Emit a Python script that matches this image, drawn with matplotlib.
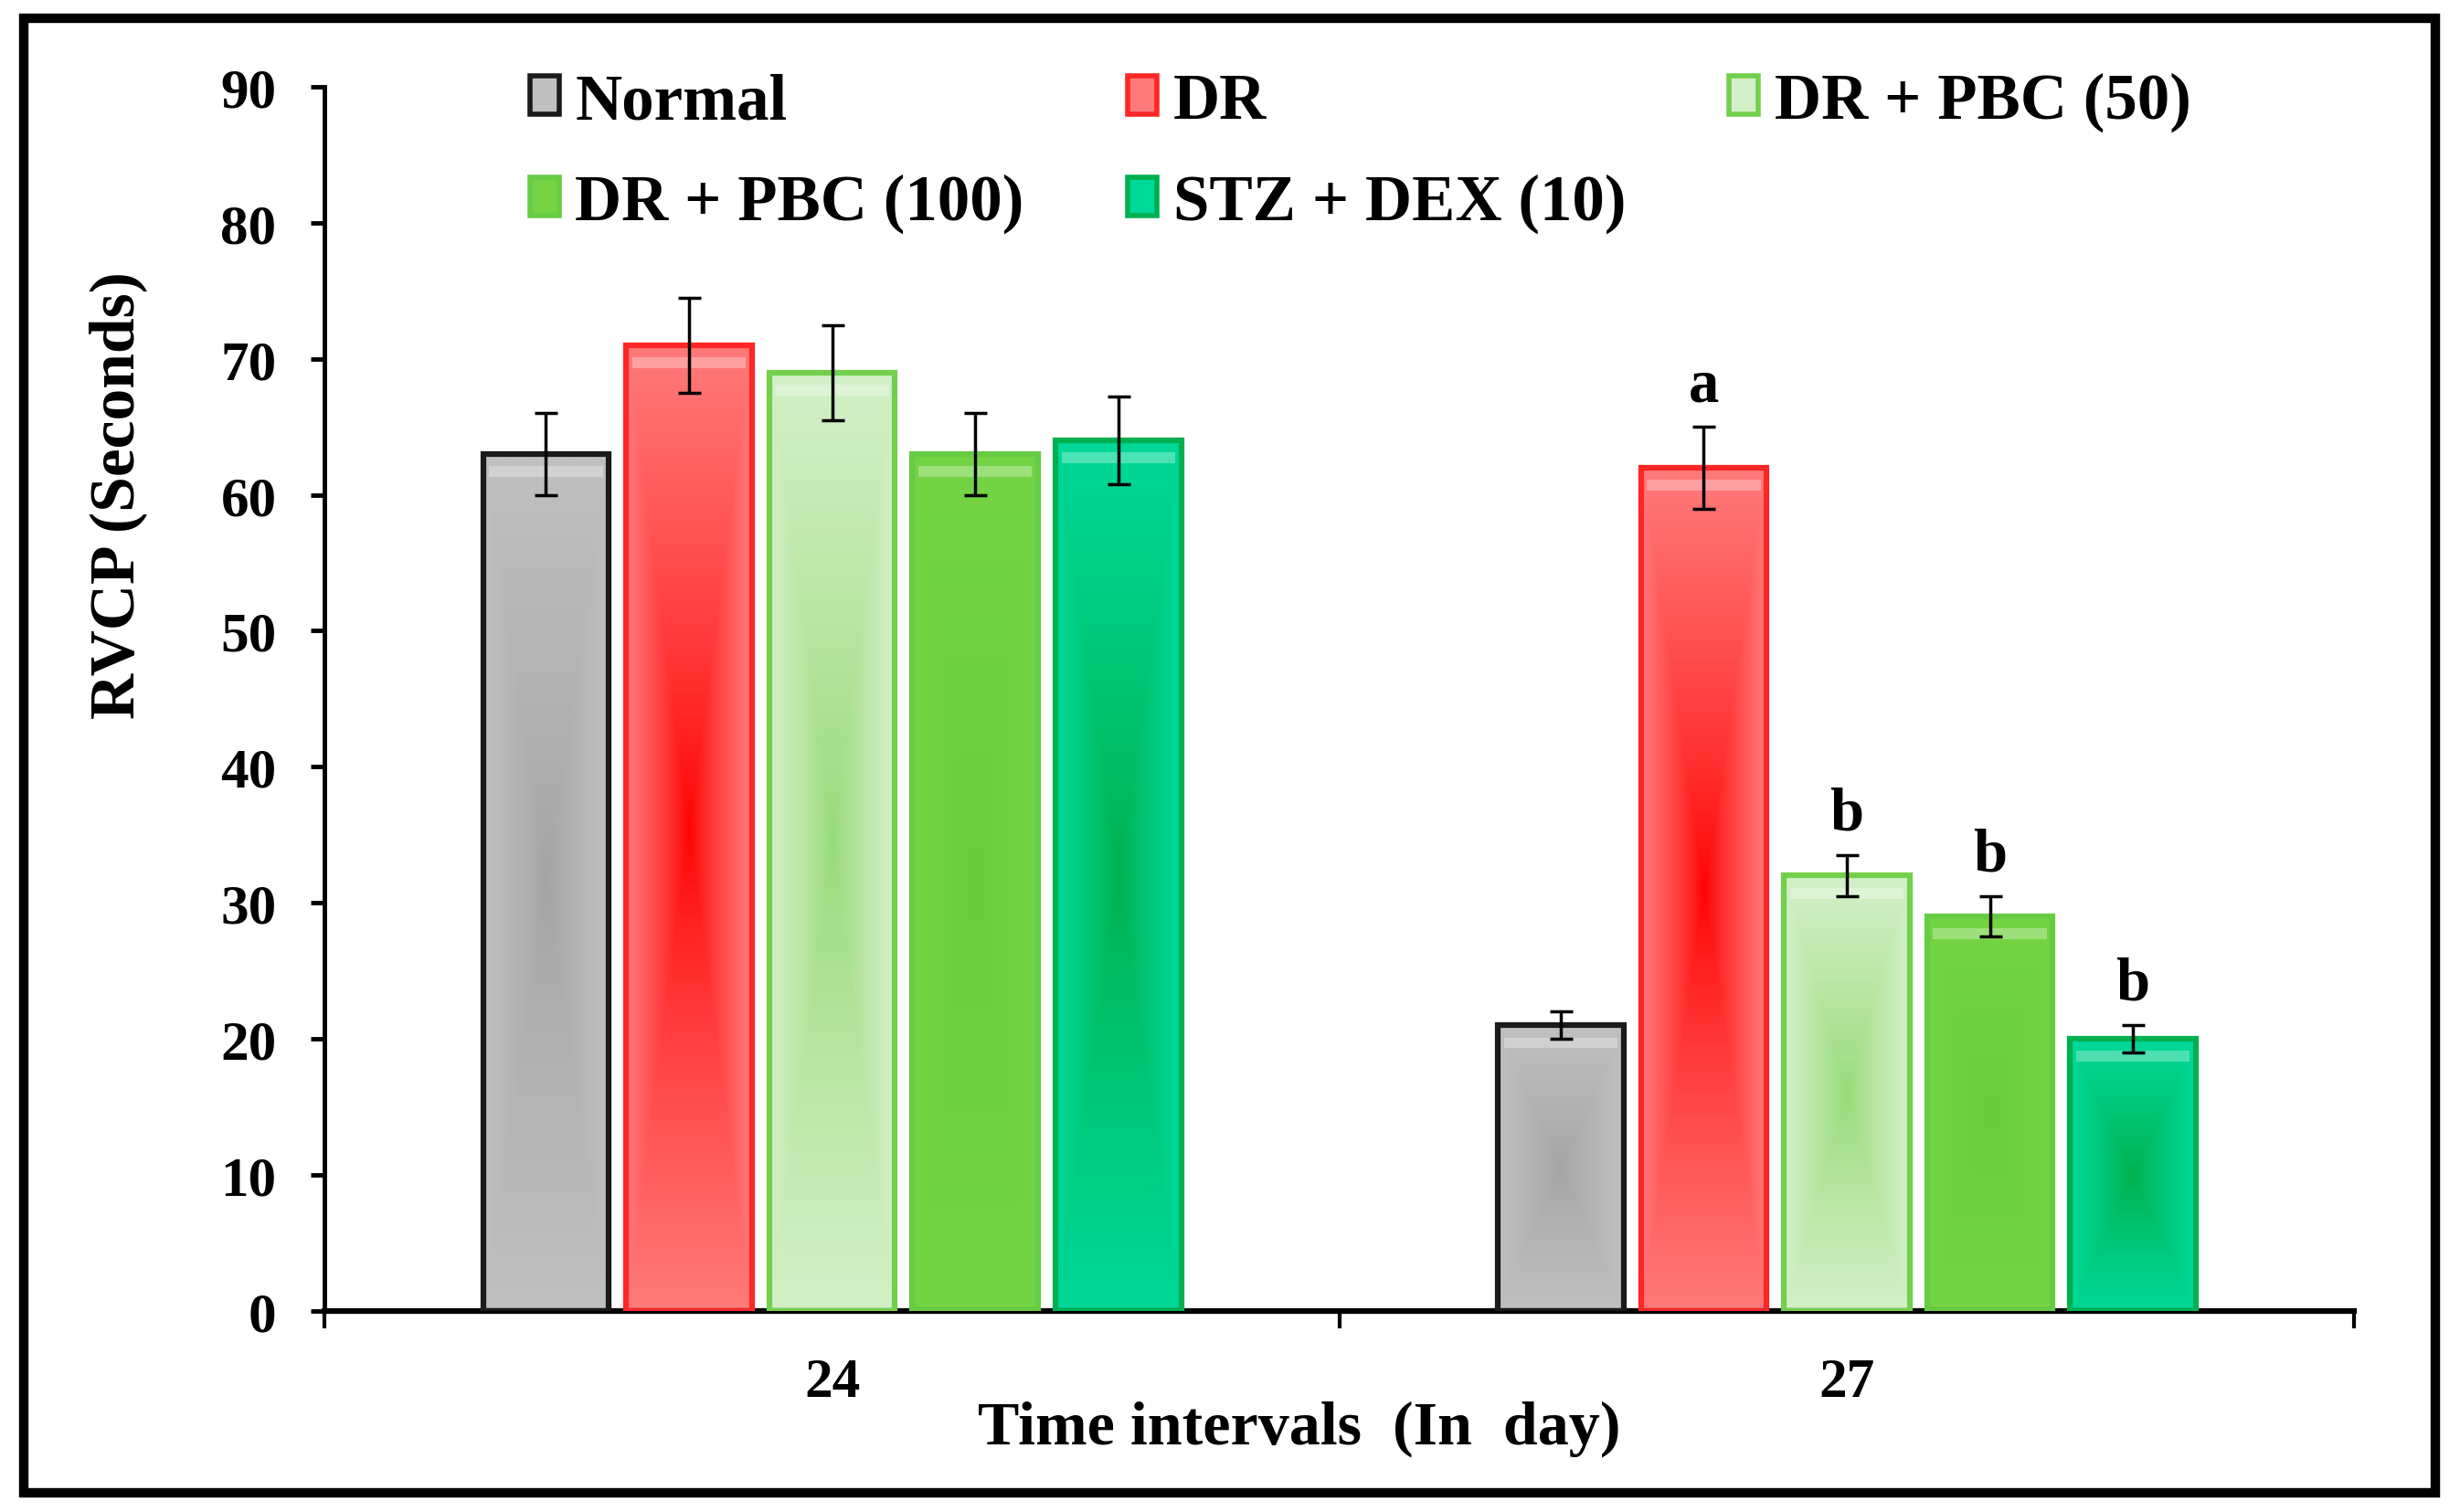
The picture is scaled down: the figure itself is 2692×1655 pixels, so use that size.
import numpy as np
import matplotlib
matplotlib.use("Agg")
import matplotlib.pyplot as plt
from matplotlib.colors import to_rgb
from matplotlib.patches import Rectangle

plt.rcParams['font.family'] = ['Liberation Serif', 'DejaVu Serif']
plt.rcParams['font.weight'] = 'bold'

# data
days = ["24", "27"]
groups = ["Normal", "DR", "DR + PBC (50)", "DR + PBC (100)", "STZ + DEX (10)"]
normal = [63, 21]
dr = [71, 62]
pbc50 = [69, 32]
pbc100 = [63, 29]
stz = [64, 20]
normal_err = [3.0, 1.0]
dr_err = [3.5, 3.0]
pbc50_err = [3.5, 1.5]
pbc100_err = [3.0, 1.5]
stz_err = [3.2, 1.0]
sig_24 = ["", "", "", "", ""]
sig_27 = ["", "a", "b", "b", "b"]

values = [normal, dr, pbc50, pbc100, stz]
errors = [normal_err, dr_err, pbc50_err, pbc100_err, stz_err]
letters = [[sig_24[i], sig_27[i]] for i in range(len(groups))]

# (centre colour, outer colour, edge colour)
styles = [
    ("#a4a4a4", "#c0c0c0", "#1a1a1a"),
    ("#ff0000", "#ff7a7a", "#ff2626"),
    ("#96da76", "#d4f0c8", "#72d04c"),
    ("#6acc3a", "#74d444", "#66cc44"),
    ("#00b04c", "#00d898", "#00b050"),
]


def gradient(c_in, c_out, n=120, m=60):
    u = np.abs(np.linspace(-1, 1, m))[None, :]
    v = np.abs(np.linspace(-1, 1, n))[:, None]
    t = np.maximum(u, v) ** 0.8
    a = np.array(to_rgb(c_in))
    b = np.array(to_rgb(c_out))
    img = a[None, None, :] * (1 - t[..., None]) + b[None, None, :] * t[..., None]
    return img


fig = plt.figure(figsize=(26.92, 16.56), dpi=100)
ax = fig.add_axes([0.132, 0.133, 0.825, 0.809])

x = np.arange(len(days))
step = 0.141
width = 0.124
for i, g in enumerate(groups):
    pos = x + (i - 2) * step
    c_in, c_out, c_edge = styles[i]
    bars = ax.bar(pos, values[i], width, facecolor='none', edgecolor=c_edge,
                  linewidth=4.5, zorder=3)
    for p in bars:
        ax.imshow(gradient(c_in, c_out), origin='lower', aspect='auto',
                  extent=(p.get_x(), p.get_x() + p.get_width(), 0, p.get_height()),
                  zorder=2, interpolation='bilinear')
        # soft light band just under the top edge
        ax.add_patch(Rectangle((p.get_x() + 0.006, p.get_height() - 1.7),
                               p.get_width() - 0.012, 0.8,
                               facecolor='white', alpha=0.3, lw=0, zorder=2.5))
    ax.errorbar(pos, values[i], yerr=errors[i], fmt='none', ecolor='black',
                elinewidth=2.5, capsize=9, capthick=2.5, zorder=4)
    for j in range(len(days)):
        if letters[i][j]:
            ax.text(pos[j], values[i][j] + errors[i][j] + 1.9, letters[i][j],
                    ha='center', va='baseline', fontsize=48, fontweight='bold')

# legend is filled row by row in the reference
proxies = []
for i in range(len(groups)):
    c_in, c_out, c_edge = styles[i]
    proxies.append(Rectangle((0, 0), 1, 1, facecolor=c_out, edgecolor=c_edge,
                             linewidth=4))
order = [0, 3, 1, 4, 2]
ax.legend([proxies[k] for k in order], [groups[k] for k in order], ncol=3,
          loc='upper left', bbox_to_anchor=(0.101, 1.012), frameon=False,
          fontsize=51, handlelength=0.45, handleheight=0.55, handletextpad=0.25,
          columnspacing=1.6, labelspacing=0.65, borderpad=0, borderaxespad=0)

ax.set_xlim(-0.5, 1.5)
ax.set_ylim(0, 90)
ax.set_yticks(np.arange(0, 91, 10))
ax.set_xticks(x)
ax.set_xticklabels(days)
ax.set_xticks([-0.5, 0.5, 1.5], minor=True)
ax.tick_params(axis='y', direction='out', length=11, width=3.5, pad=27,
               labelsize=44)
ax.tick_params(axis='x', which='major', length=0, pad=36, labelsize=44)
ax.tick_params(axis='x', which='minor', direction='out', length=14, width=3)
for t in ax.get_xticklabels() + ax.get_yticklabels():
    t.set_fontweight('bold')

ax.spines['top'].set_visible(False)
ax.spines['right'].set_visible(False)
ax.spines['left'].set_linewidth(3.5)
ax.spines['bottom'].set_linewidth(4.5)

ax.text(-0.102, 0.667, "RVCP (Seconds)", transform=ax.transAxes, rotation=90,
        ha='center', va='center', fontsize=50, fontweight='bold')
ax.text(0.48, -0.096, "Time intervals  (In  day)", transform=ax.transAxes,
        ha='center', va='center', fontsize=49, fontweight='bold')

fig.patches.append(Rectangle((0.0096, 0.0124), 0.9804, 0.9752,
                             transform=fig.transFigure, fill=False,
                             edgecolor='black', linewidth=7.5))

fig.savefig("out.png", dpi=100)
